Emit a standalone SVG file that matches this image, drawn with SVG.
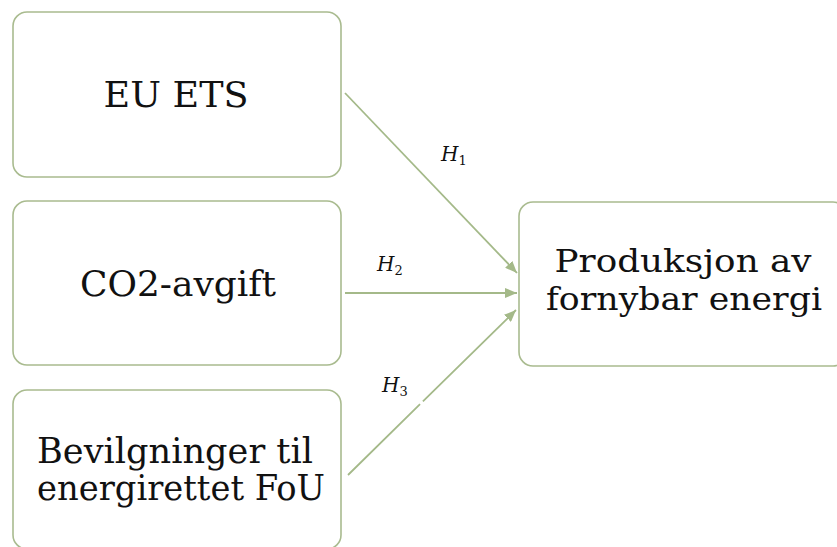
<svg xmlns="http://www.w3.org/2000/svg" width="837" height="547" viewBox="0 0 837 547">
  <style>
    .box { fill: #ffffff; stroke: #a9bb8f; stroke-width: 1.6; }
    .lbl { font-family: "DejaVu Serif", "Liberation Serif", serif; font-size: 36px; fill: #111111; text-anchor: middle; }
    .tight { font-size: 32px; }
    .edge { fill: none; stroke: #a4b989; stroke-width: 1.8; }
    .h { font-family: "DejaVu Serif", "Liberation Serif", serif; font-style: italic; font-size: 20px; fill: #111111; }
    .sub { font-style: normal; font-size: 13px; }
  </style>
  <defs>
    <marker id="arrow" viewBox="0 0 12 10" refX="12" refY="5" markerWidth="12" markerHeight="10" markerUnits="userSpaceOnUse" orient="auto">
      <path d="M0,0 L12,5 L0,10 Z" fill="#a4b989"/>
    </marker>
  </defs>
  <rect width="837" height="547" fill="#ffffff"/>

  <g id="node-eu-ets">
    <rect class="box" x="13" y="12" width="328" height="165" rx="14"/>
    <text class="lbl" x="176" y="107" textLength="145" lengthAdjust="spacingAndGlyphs">EU ETS</text>
  </g>

  <g id="node-co2-avgift">
    <rect class="box" x="13" y="201" width="328" height="164" rx="14"/>
    <text class="lbl" x="178" y="296" textLength="196" lengthAdjust="spacingAndGlyphs">CO2-avgift</text>
  </g>

  <g id="node-bevilgninger">
    <rect class="box" x="13" y="390" width="328" height="159" rx="14"/>
    <text class="lbl" x="175" y="463" textLength="276" lengthAdjust="spacingAndGlyphs">Bevilgninger til</text>
    <text class="lbl" x="181" y="500" textLength="288" lengthAdjust="spacingAndGlyphs">energirettet FoU</text>
  </g>

  <g id="node-produksjon">
    <rect class="box" x="519" y="202" width="328" height="164" rx="14"/>
    <text class="lbl tight" x="683" y="272" textLength="257" lengthAdjust="spacingAndGlyphs">Produksjon av</text>
    <text class="lbl tight" x="684" y="310" textLength="276" lengthAdjust="spacingAndGlyphs">fornybar energi</text>
  </g>

  <g id="connectors">
    <line class="edge" x1="345" y1="93" x2="517" y2="273" marker-end="url(#arrow)"/>
    <line class="edge" x1="345" y1="293" x2="517" y2="293" marker-end="url(#arrow)"/>
    <line class="edge" x1="348" y1="475" x2="516" y2="310" stroke-dasharray="101 4 300" marker-end="url(#arrow)"/>
    <text class="h" x="441" y="161">H<tspan class="sub" dy="4">1</tspan></text>
    <text class="h" x="377" y="271">H<tspan class="sub" dy="4">2</tspan></text>
    <text class="h" x="382" y="392">H<tspan class="sub" dy="4">3</tspan></text>
  </g>
</svg>
